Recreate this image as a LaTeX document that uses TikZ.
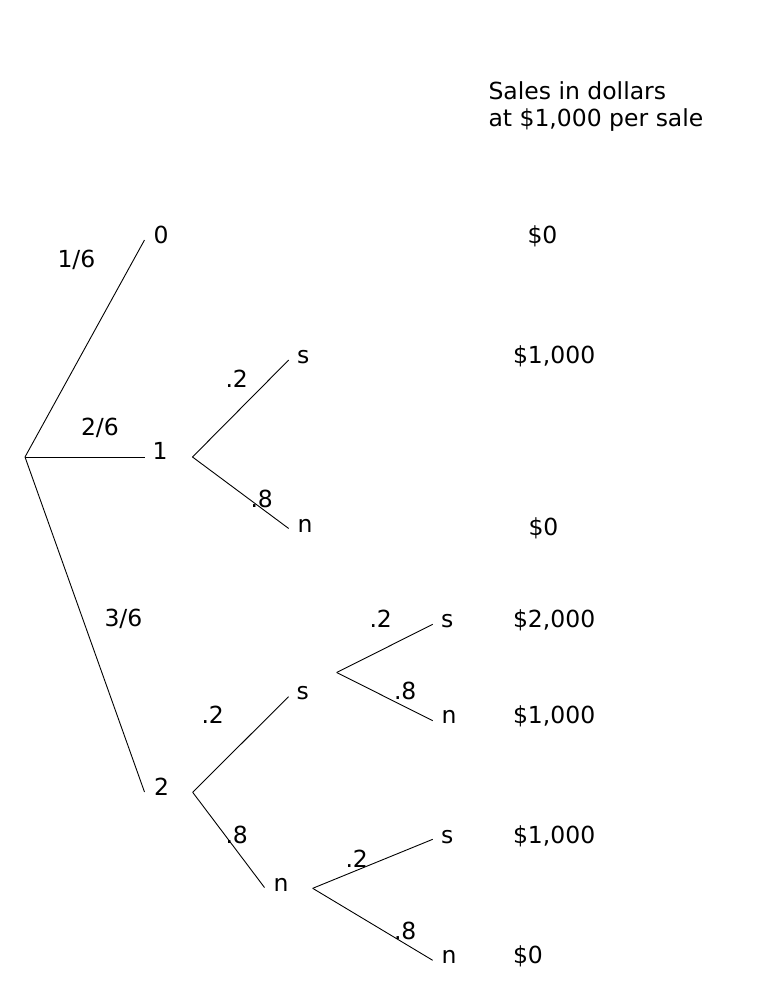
\documentclass[tikz,border=0pt]{standalone}
\usepackage{fontspec}
\setmainfont{DejaVu Sans}
\begin{document}
\begin{tikzpicture}[x=1pt,y=-1pt,
  lbl/.style={anchor=base west,inner sep=0pt,outer sep=0pt,font=\fontsize{23.5}{27}\selectfont},
  branch/.style={line width=0.9pt}]
\useasboundingbox (0,0) rectangle (767,1007);
% header
\node[lbl] (hdr1) at (488.5,99) {Sales in dollars};
\node[lbl] (hdr2) at (488.5,126.5) {at \$1,000 per sale};
% branch points
\coordinate (root) at (25,457);
\coordinate (e0) at (144.5,240);
\coordinate (e1) at (145,457);
\coordinate (e2) at (144.5,792);
\coordinate (b1) at (192.5,457);
\coordinate (b1s) at (288.7,360);
\coordinate (b1n) at (288.7,528.5);
\coordinate (b2) at (192.7,792.3);
\coordinate (b2s) at (288.5,696.7);
\coordinate (b2n) at (264.5,887.5);
\coordinate (b3) at (336.7,672.5);
\coordinate (b3s) at (432.7,624.3);
\coordinate (b3n) at (432.7,720.7);
\coordinate (b4) at (312.7,888.3);
\coordinate (b4s) at (432.7,839.3);
\coordinate (b4n) at (432.7,960.3);
\draw[branch] (root) -- (e0);
\draw[branch] (root) -- (e1);
\draw[branch] (root) -- (e2);
\draw[branch] (b1) -- (b1s);
\draw[branch] (b1) -- (b1n);
\draw[branch] (b2) -- (b2s);
\draw[branch] (b2) -- (b2n);
\draw[branch] (b3) -- (b3s);
\draw[branch] (b3) -- (b3n);
\draw[branch] (b4) -- (b4s);
\draw[branch] (b4) -- (b4n);
% outcome labels
\node[lbl] (t0) at (153.5,243.5) {0};
\node[lbl] (t1) at (152.5,459.5) {1};
\node[lbl] (t2) at (154,795.5) {2};
\node[lbl] (t1s) at (297,363.5) {s};
\node[lbl] (t1n) at (297.5,532) {n};
\node[lbl] (t2s) at (296.5,699.5) {s};
\node[lbl] (t2n) at (273.5,891.5) {n};
\node[lbl] (t3s) at (441,627.2) {s};
\node[lbl] (t3n) at (441.5,723.2) {n};
\node[lbl] (t4s) at (441,843.2) {s};
\node[lbl] (t4n) at (441.5,963.2) {n};
% probabilities
\node[lbl] (p16) at (57.5,267.5) {1/6};
\node[lbl] (p26) at (81,435.5) {2/6};
\node[lbl] (p36) at (104.5,626.5) {3/6};
\node[lbl] (p1a) at (225.5,387.5) {.2};
\node[lbl] (p1b) at (250.5,507.2) {.8};
\node[lbl] (p2a) at (201.5,723.2) {.2};
\node[lbl] (p2b) at (225.5,843.2) {.8};
\node[lbl] (p3a) at (369.5,627.2) {.2};
\node[lbl] (p3b) at (394,699.5) {.8};
\node[lbl] (p4a) at (345.5,867.2) {.2};
\node[lbl] (p4b) at (394,939.8) {.8};
% sales
\node[lbl] (d1) at (527.5,243.5) {\$0};
\node[lbl] (d2) at (513,363.8) {\$1,000};
\node[lbl] (d3) at (528.5,535.5) {\$0};
\node[lbl] (d4) at (513,627.2) {\$2,000};
\node[lbl] (d5) at (513,723.2) {\$1,000};
\node[lbl] (d6) at (513,843.2) {\$1,000};
\node[lbl] (d7) at (513,963.2) {\$0};
\end{tikzpicture}
\end{document}
